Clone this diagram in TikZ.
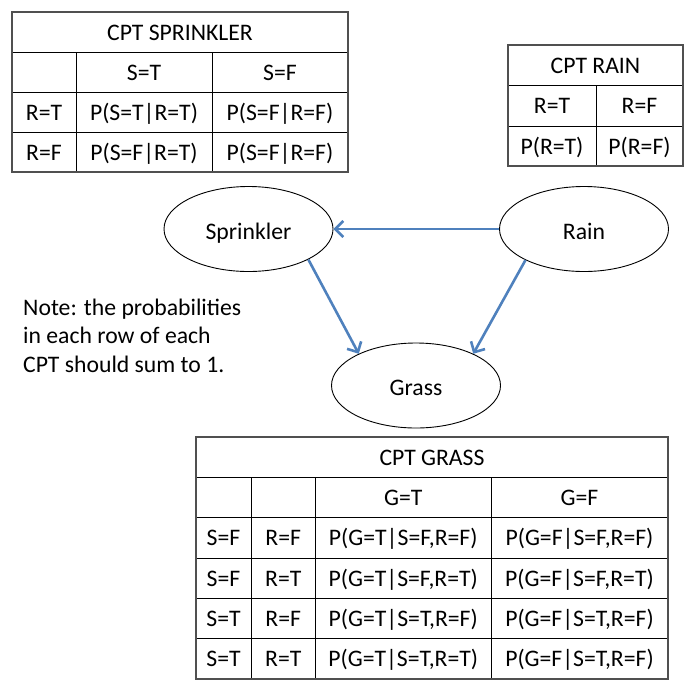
\documentclass[tikz,border=0pt]{standalone}
\usepackage{fontspec}
\setmainfont{Carlito}
\usetikzlibrary{arrows.meta,shapes.geometric}
\definecolor{arrowblue}{RGB}{79,129,189}
\definecolor{framegray}{RGB}{80,80,80}
\begin{document}
\begin{tikzpicture}[x=1pt,y=-1pt,
  font=\fontsize{23.7}{28.5}\selectfont,
  outer/.style={draw=framegray,line width=1.6pt},
  inner/.style={draw=black,line width=1pt},
  cell/.style={anchor=base,inner sep=0pt},
  bnode/.style={ellipse,draw=black,line width=0.9pt,minimum width=169pt,minimum height=85pt,inner sep=0pt,text height=20pt,text depth=0pt},
  link/.style={draw=arrowblue,line width=2.6pt,-{Straight Barb[length=8pt,width=16pt]}}]
\useasboundingbox (0,0) rectangle (696,691);

% ---------- CPT SPRINKLER ----------
\draw[inner] (12,52) -- (348,52) (12,92) -- (348,92) (12,132) -- (348,132)
             (76,52) -- (76,172) (212,52) -- (212,172);
\draw[outer] (12,12) rectangle (348,172);
\node[cell] (spT)  at (180,40)  {CPT SPRINKLER};
\node[cell] (spH1) at (144,80)  {S=T};
\node[cell] (spH2) at (280,80)  {S=F};
\node[cell] (spR1) at (44,120)  {R=T};
\node[cell] (spA1) at (144,120) {P(S=T|R=T)};
\node[cell] (spB1) at (280,120) {P(S=F|R=F)};
\node[cell] (spR2) at (44,160)  {R=F};
\node[cell] (spA2) at (144,160) {P(S=F|R=T)};
\node[cell] (spB2) at (280,160) {P(S=F|R=F)};

% ---------- CPT RAIN ----------
\draw[inner] (508,85) -- (683,85) (508,126) -- (683,126) (596,85) -- (596,166);
\draw[outer] (508,45) rectangle (683,166);
\node[cell] (raT)  at (595.5,73)  {CPT RAIN};
\node[cell] (raH1) at (552,113.5) {R=T};
\node[cell] (raH2) at (639.5,113.5) {R=F};
\node[cell] (raA)  at (552,154)   {P(R=T)};
\node[cell] (raB)  at (639.5,154) {P(R=F)};

% ---------- network ----------
\node[bnode] (spr)   at (248.5,229) {Sprinkler};
\node[bnode] (rain)  at (584,229)   {Rain};
\node[bnode] (grass) at (416,385.5) {Grass};
\draw[link] (rain.west) -- (spr.east);
\draw[link] (spr.-27.5) -- (grass.151);
\draw[link] (rain.-152.5) -- (grass.29);

\node[anchor=base west,align=left,inner sep=0pt] (note) at (23,372)
  {Note: the probabilities\\in each row of each\\CPT should sum to 1.};

% ---------- CPT GRASS ----------
\draw[inner] (196,477.3) -- (668,477.3) (196,517.7) -- (668,517.7)
             (196,558) -- (668,558) (196,598.3) -- (668,598.3) (196,638.7) -- (668,638.7)
             (251,477.3) -- (251,679) (315.5,477.3) -- (315.5,679) (491,477.3) -- (491,679);
\draw[outer] (196,437) rectangle (668,679);
\node[cell] (grT)  at (432,465.2)    {CPT GRASS};
\node[cell] (grH1) at (403.25,505.5) {G=T};
\node[cell] (grH2) at (579.5,505.5)  {G=F};
\node[cell] (gS1) at (223.5,545.8)  {S=F};
\node[cell] (gR1) at (283.25,545.8) {R=F};
\node[cell] (gA1) at (403.25,545.8) {P(G=T|S=F,R=F)};
\node[cell] (gB1) at (579.5,545.8)  {P(G=F|S=F,R=F)};
\node[cell] (gS2) at (223.5,586.2)  {S=F};
\node[cell] (gR2) at (283.25,586.2) {R=T};
\node[cell] (gA2) at (403.25,586.2) {P(G=T|S=F,R=T)};
\node[cell] (gB2) at (579.5,586.2)  {P(G=F|S=F,R=T)};
\node[cell] (gS3) at (223.5,626.5)  {S=T};
\node[cell] (gR3) at (283.25,626.5) {R=F};
\node[cell] (gA3) at (403.25,626.5) {P(G=T|S=T,R=F)};
\node[cell] (gB3) at (579.5,626.5)  {P(G=F|S=T,R=F)};
\node[cell] (gS4) at (223.5,666.8)  {S=T};
\node[cell] (gR4) at (283.25,666.8) {R=T};
\node[cell] (gA4) at (403.25,666.8) {P(G=T|S=T,R=T)};
\node[cell] (gB4) at (579.5,666.8)  {P(G=F|S=T,R=F)};
\end{tikzpicture}
\end{document}
